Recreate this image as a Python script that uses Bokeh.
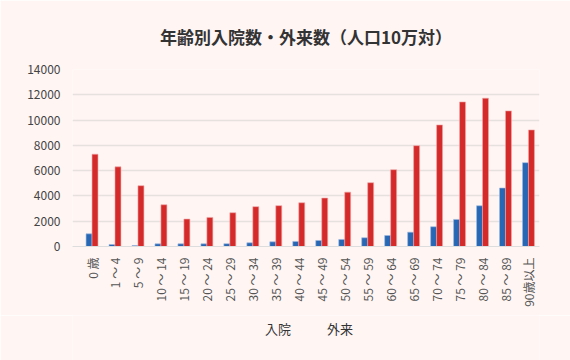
import math
from bokeh.plotting import figure
from bokeh.layouts import column
from bokeh.models import (ColumnDataSource, Legend, LegendItem, FixedTicker, Range1d,
                          CDSView, IndexFilter)
from bokeh.embed import file_html
from bokeh.resources import INLINE

categories = ["0 歳", "1 ～ 4", "5 ～ 9", "10 ～ 14", "15 ～ 19", "20 ～ 24", "25 ～ 29",
              "30 ～ 34", "35 ～ 39", "40 ～ 44", "45 ～ 49", "50 ～ 54", "55 ～ 59",
              "60 ～ 64", "65 ～ 69", "70 ～ 74", "75 ～ 79", "80 ～ 84", "85 ～ 89", "90歳以上"]
inpatient = [1000, 160, 80, 210, 210, 210, 220, 290, 370, 400, 475, 555, 690, 870,
             1135, 1560, 2140, 3220, 4625, 6630]
outpatient = [7300, 6300, 4810, 3300, 2170, 2300, 2670, 3150, 3230, 3460, 3830, 4300,
              5045, 6075, 7975, 9615, 11435, 11730, 10725, 9220]
y_ticks = [0, 2000, 4000, 6000, 8000, 10000, 12000, 14000]

BG = "#fff5f3"
BLUE = "#2767b4"
RED = "#d42a2a"

idx = list(range(len(categories)))
src = ColumnDataSource(dict(
    xb=[i - 0.13 for i in idx], xr=[i + 0.13 for i in idx],
    inp=inpatient, out=outpatient))

p = figure(frame_width=467, frame_height=177, output_backend="svg", toolbar_location=None,
           x_range=Range1d(-0.85, 19.48), y_range=Range1d(0, 14000),
           background_fill_color=BG, border_fill_color=BG, outline_line_color=None,
           min_border_left=72, min_border_right=31, min_border_top=69,
           min_border_bottom=69)

p.title.text = "年齢別入院数・外来数（人口10万対）"
p.title.align = "center"
p.title.text_font = "Noto Sans CJK JP"
p.title.text_font_size = "17px"
p.title.text_font_style = "bold"
p.title.text_color = "#333333"
p.title.standoff = 42

bar_kw = dict(width=0.26, source=src, line_width=0.6)
p.vbar(x="xb", top="inp", fill_color=BLUE, line_color="#9fbbe0", **bar_kw)
p.vbar(x="xr", top="out", fill_color=RED, line_color="#f0a8a8", **bar_kw)

p.xaxis.ticker = FixedTicker(ticks=idx)
p.xaxis.major_label_overrides = {i: c for i, c in zip(idx, categories)}
p.xaxis.major_label_orientation = math.pi / 2
p.xaxis.major_label_text_font = "Noto Sans CJK JP"
p.xaxis.major_label_text_font_size = "12px"
p.xaxis.major_label_text_color = "#555555"
p.xaxis.axis_line_color = "#dddddd"
p.xaxis.major_tick_line_color = None
p.xaxis.minor_tick_line_color = None
p.xaxis.major_label_standoff = 5

p.yaxis.ticker = FixedTicker(ticks=y_ticks)
p.yaxis.major_label_text_font = "Noto Sans CJK JP"
p.yaxis.major_label_text_font_size = "12px"
p.yaxis.major_label_text_color = "#444444"
p.yaxis.axis_line_color = None
p.yaxis.major_tick_line_color = None
p.yaxis.minor_tick_line_color = None
p.yaxis.major_label_standoff = 6

p.xgrid.grid_line_color = None
p.ygrid.grid_line_color = "#e6e0de"
p.ygrid.grid_line_width = 1.5

# legend strip below the chart (renderers with an empty view: only legend swatches show)
lg = figure(width=570, height=45, output_backend="svg", toolbar_location=None,
            x_range=Range1d(-0.85, 19.48), y_range=Range1d(0, 14000),
            x_axis_type=None, y_axis_type=None,
            background_fill_color=BG, border_fill_color=BG, outline_line_color=None,
            min_border_left=0, min_border_right=0, min_border_top=0, min_border_bottom=0)
lg.xgrid.grid_line_color = None
lg.ygrid.grid_line_color = None
empty = CDSView(filter=IndexFilter([]))
lb = lg.vbar(x="xb", top="inp", fill_color=BLUE, line_color=None, width=0.26,
             source=src, view=empty)
lr = lg.vbar(x="xr", top="out", fill_color=RED, line_color=None, width=0.26,
             source=src, view=CDSView(filter=IndexFilter([])))

legend = Legend(items=[LegendItem(label="入院", renderers=[lb]),
                       LegendItem(label="外来", renderers=[lr])],
                orientation="horizontal", location=(177, 22),
                background_fill_alpha=0, border_line_color=None,
                label_text_font="Noto Sans CJK JP", label_text_font_size="13px",
                label_text_color="#333333", glyph_width=10, glyph_height=10,
                spacing=20, margin=0, padding=4, label_standoff=6)
lg.add_layout(legend, "center")

layout = column(p, lg, spacing=0)

html = file_html(layout, INLINE)
html = html.replace("<body>", '<body style="background:%s">' % BG, 1)
open("out.html", "w").write(html)
